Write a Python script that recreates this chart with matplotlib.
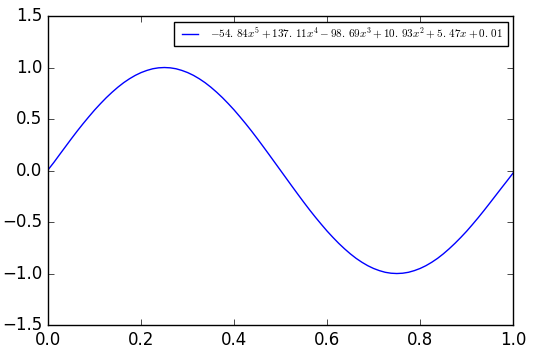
import matplotlib
matplotlib.use("Agg")
import matplotlib.pyplot as plt

plt.style.use("classic")
plt.rcParams["mathtext.fontset"] = "cm"

# ===== DATA =====
# x sampled every 0.0125 from 0 to 1
x_vals = [i / 80 for i in range(81)]
y_vals = [0.008, 0.080, 0.157, 0.233, 0.309, 0.383, 0.454, 0.522, 0.588, 0.649,
          0.707, 0.760, 0.809, 0.853, 0.891, 0.924, 0.951, 0.972, 0.988, 0.997,
          1.000, 0.997, 0.988, 0.972, 0.951, 0.924, 0.891, 0.853, 0.809, 0.760,
          0.707, 0.649, 0.588, 0.522, 0.454, 0.383, 0.309, 0.233, 0.156, 0.078,
          0.000, -0.078, -0.156, -0.233, -0.309, -0.383, -0.454, -0.522, -0.588, -0.649,
          -0.707, -0.760, -0.809, -0.853, -0.891, -0.924, -0.951, -0.972, -0.988, -0.997,
          -1.000, -0.997, -0.988, -0.972, -0.951, -0.924, -0.891, -0.853, -0.809, -0.760,
          -0.707, -0.650, -0.590, -0.525, -0.458, -0.388, -0.316, -0.243, -0.170, -0.098,
          -0.025]
fit_label = (r"$-54.\,84x^5+137.\,11x^4-98.\,69x^3+10.\,93x^2"
             r"+5.\,47x+0.\,01$")

fig = plt.figure(figsize=(5.35, 3.56), dpi=100, facecolor="white")
ax = fig.add_axes([0.09, 0.087, 0.869, 0.868])
ax.plot(x_vals, y_vals, "b-", lw=1.0, label=fit_label)
ax.set_xlim(0, 1)
ax.set_ylim(-1.5, 1.5)
ax.legend(loc="upper right", fontsize=8)

fig.savefig("out.png", dpi=100, facecolor="white")
